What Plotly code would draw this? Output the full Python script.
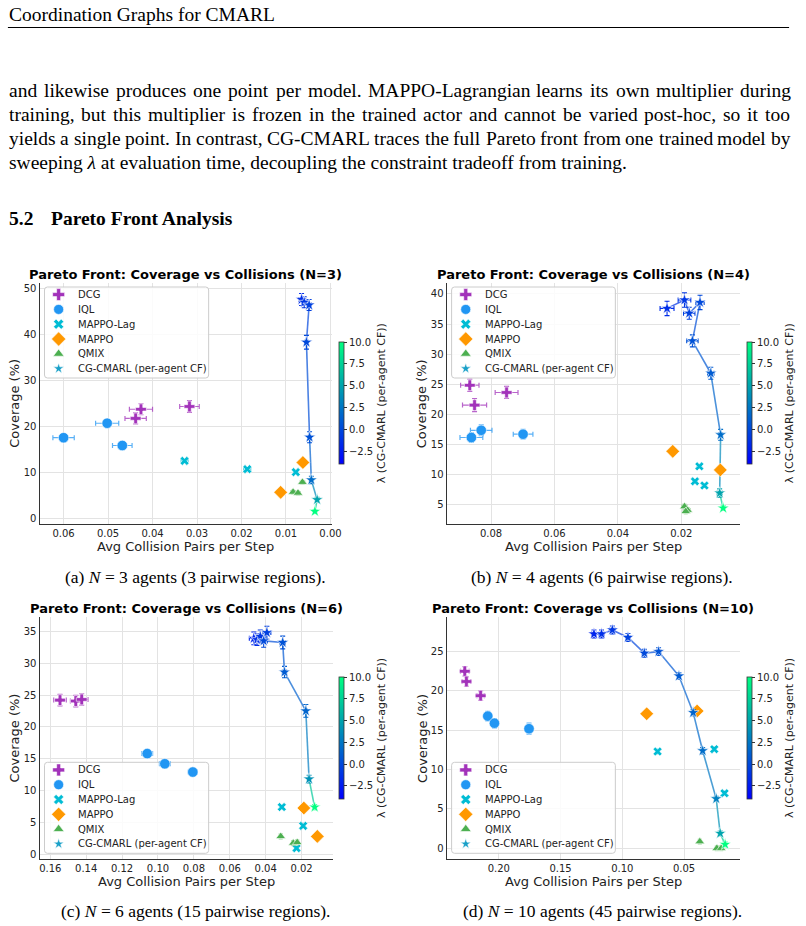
import plotly.graph_objects as go

PAGE_W, PAGE_H = 806, 926
PANELS = [3, 4, 6, 10]

# ---------------- data ----------------
# CG-CMARL lambda sweep: collisions, coverage, errors, lambda
CG_COLL = {
    3: [0.0065, 0.0059, 0.0048, 0.0054, 0.0047, 0.0043, 0.0030, 0.0035],
    4: [0.0245, 0.0190, 0.0175, 0.0141, 0.0165, 0.0107, 0.0076, 0.0079, 0.0068],
    6: [0.0466, 0.0448, 0.0430, 0.0393, 0.0411, 0.0305, 0.0295, 0.0176, 0.0158, 0.0127],
    10: [0.1229, 0.1168, 0.1080, 0.0954, 0.0821, 0.0706, 0.0541, 0.0426, 0.0349, 0.0239, 0.0207, 0.0167],
}
CG_COV = {
    3: [47.6, 47.0, 46.4, 38.3, 17.6, 8.3, 4.0, 1.45],
    4: [37.6, 39.0, 36.8, 38.6, 32.2, 26.8, 16.55, 6.85, 4.35],
    6: [33.9, 33.7, 34.2, 34.8, 33.5, 33.25, 28.6, 22.5, 11.8, 7.4],
    10: [27.25, 27.25, 27.75, 26.8, 24.8, 25.0, 21.9, 17.25, 12.4, 6.3, 1.9, 0.5],
}
CG_COLL_ERR = {
    3: [0.0006, 0.0006, 0.0005, 0.0004, 0.0003, 0.0003, 0.0003, 0.0003],
    4: [0.0022, 0.0020, 0.0018, 0.0013, 0.0018, 0.0010, 0.0006, 0.0008, 0.0005],
    6: [0.0025, 0.0020, 0.0020, 0.0022, 0.0020, 0.0015, 0.0012, 0.0008, 0.0007, 0.0006],
    10: [0.0020, 0.0020, 0.0020, 0.0018, 0.0018, 0.0018, 0.0012, 0.0012, 0.0010, 0.0008, 0.0006, 0.0005],
}
CG_COV_ERR = {
    3: [1.3, 1.2, 1.2, 1.5, 1.2, 0.8, 0.5, 0.4],
    4: [1.2, 1.2, 1.0, 1.2, 1.0, 1.0, 0.9, 0.7, 0.4],
    6: [1.0, 0.9, 1.0, 1.0, 1.0, 1.0, 0.9, 1.0, 0.6, 0.4],
    10: [0.5, 0.5, 0.5, 0.5, 0.5, 0.5, 0.4, 0.4, 0.4, 0.3, 0.3, 0.3],
}
CG_LAMBDA = {
    3: [-1.5, -1, -0.5, 0, 0.5, 2, 5, 10],
    4: [-1.5, -1, -0.5, 0, 0.5, 1, 2, 5, 10],
    6: [-2, -1.5, -1, -0.5, 0, 0.5, 1, 1.5, 4, 10],
    10: [-2, -1.5, -1, -0.5, 0, 0.5, 1, 1.5, 2, 3, 5, 10],
}

DCG_COLL = {3: [0.0317, 0.0426, 0.0438], 4: [0.0867, 0.0751, 0.0852],
            6: [0.1546, 0.1458, 0.1425], 10: [0.2275, 0.2262, 0.2147]}
DCG_COV = {3: [24.3, 23.7, 21.7], 4: [24.8, 23.6, 21.5],
           6: [24.2, 24.05, 24.3], 10: [22.5, 21.2, 19.4]}
DCG_COLL_ERR = {3: [0.0022, 0.0026, 0.0024], 4: [0.0029, 0.0036, 0.0038],
                6: [0.0035, 0.0030, 0.0035], 10: [0.0035, 0.0035, 0.0030]}
DCG_COV_ERR = {3: [1.3, 1.2, 1.2], 4: [1.0, 1.0, 1.1],
               6: [0.9, 0.9, 0.9], 10: [0.6, 0.6, 0.6]}

IQL_COLL = {3: [0.0502, 0.0600, 0.0468], 4: [0.0831, 0.0862, 0.0699],
            6: [0.1060, 0.0962, 0.0806], 10: [0.2089, 0.2035, 0.1755]}
IQL_COV = {3: [20.65, 17.5, 15.8], 4: [17.3, 16.1, 16.65],
           6: [15.8, 14.2, 12.9], 10: [16.8, 15.9, 15.2]}
IQL_COLL_ERR = {3: [0.0026, 0.0024, 0.0022], 4: [0.0034, 0.0036, 0.0031],
                6: [0.0030, 0.0030, 0.0025], 10: [0.0030, 0.0030, 0.0030]}
IQL_COV_ERR = {3: [0.6, 0.8, 0.8], 4: [0.9, 0.8, 0.8],
               6: [0.6, 0.6, 0.6], 10: [0.6, 0.6, 0.7]}

MLAG_COLL = {3: [0.0328, 0.0187, 0.0078], 4: [0.0143, 0.0157, 0.0127],
             6: [0.0310, 0.0191, 0.0228], 10: [0.0714, 0.0255, 0.0172]}
MLAG_COV = {3: [12.45, 10.65, 10.0], 4: [11.3, 8.8, 8.1],
            6: [7.4, 4.45, 0.95], 10: [12.3, 12.6, 7.0]}
MLAG_COLL_ERR = {3: [0.0008, 0.0008, 0.0005], 4: [0.0007, 0.0007, 0.0007],
                 6: [0.0010, 0.0010, 0.0010], 10: [0.0012, 0.0012, 0.0012]}
MLAG_COV_ERR = {3: [0.3, 0.3, 0.3], 4: [0.3, 0.3, 0.3],
                6: [0.3, 0.3, 0.3], 10: [0.3, 0.3, 0.3]}

MAPPO_COLL = {3: [0.0062, 0.0112], 4: [0.0227, 0.0077],
              6: [0.0187, 0.0112], 10: [0.0802, 0.0394]}
MAPPO_COV = {3: [12.1, 5.6], 4: [13.8, 10.7],
             6: [7.25, 2.8], 10: [17.1, 17.45]}

QMIX_COLL = {3: [0.0063, 0.0084, 0.0073], 4: [0.0190, 0.0180, 0.0186],
             6: [0.0316, 0.0246, 0.0224], 10: [0.0372, 0.0234, 0.0199]}
QMIX_COV = {3: [7.8, 5.65, 5.45], 4: [4.6, 4.0, 3.8],
            6: [2.8, 1.75, 1.85], 10: [0.85, 0.0, 0.0]}
QMIX_COLL_ERR = {3: [0.0005, 0.0005, 0.0005], 4: [0.0008, 0.0008, 0.0008],
                 6: [0.0008, 0.0008, 0.0008], 10: [0.0010, 0.0010, 0.0010]}
QMIX_COV_ERR = {3: [0.4, 0.4, 0.4], 4: [0.4, 0.4, 0.4],
                6: [0.4, 0.4, 0.4], 10: [0.3, 0.3, 0.3]}

X_TICKS = {3: [0.00, 0.01, 0.02, 0.03, 0.04, 0.05, 0.06],
           4: [0.02, 0.04, 0.06, 0.08],
           6: [0.02, 0.04, 0.06, 0.08, 0.10, 0.12, 0.14, 0.16],
           10: [0.05, 0.10, 0.15, 0.20]}
Y_TICKS = {3: [0, 10, 20, 30, 40, 50], 4: [5, 10, 15, 20, 25, 30, 35, 40],
           6: [0, 5, 10, 15, 20, 25, 30, 35], 10: [0, 5, 10, 15, 20, 25]}
CBAR_TICKS = [-2.5, 0.0, 2.5, 5.0, 7.5, 10.0]
LAM_MIN, LAM_MAX = -4.0, 10.0

PANEL_TITLES = {n: f"Pareto Front: Coverage vs Collisions (N={n})" for n in PANELS}
CAPTIONS = {3: "(a) <i>N</i> = 3 agents (3 pairwise regions).",
            4: "(b) <i>N</i> = 4 agents (6 pairwise regions).",
            6: "(c) <i>N</i> = 6 agents (15 pairwise regions).",
            10: "(d) <i>N</i> = 10 agents (45 pairwise regions)."}
LEGEND_NAMES = ["DCG", "IQL", "MAPPO-Lag", "MAPPO", "QMIX", "CG-CMARL (per-agent CF)"]

HEADER = "Coordination Graphs for CMARL"
BODY_LINES = [
    "and likewise produces one point per model. MAPPO-Lagrangian learns its own multiplier during",
    "training, but this multiplier is frozen in the trained actor and cannot be varied post-hoc, so it too",
    "yields a single point. In contrast, CG-CMARL traces the full Pareto front from one trained model by",
]
LAST_LINE = "sweeping <i>λ</i> at evaluation time, decoupling the constraint tradeoff from training."
SECTION_NUM = "5.2"
SECTION_TITLE = "Pareto Front Analysis"

# ---------------- layout geometry (page pixels) ----------------
PLOT_BOX = {3: (40, 283, 336, 524), 4: (451.7, 283, 748, 524),
            6: (40, 617, 336.7, 859.3), 10: (451.7, 617, 748.3, 859.3)}
X_RANGE = {3: [0.0654, -0.0004], 4: [0.0940, 0.0016], 6: [0.1660, 0.0025], 10: [0.2422, 0.0047]}
Y_RANGE = {3: [-1.3, 51.2], 4: [1.7, 41.83], 6: [-0.8, 37.25], 10: [-1.4, 29.4]}
CBAR_POS = {3: (343.3, 403.2), 4: (755.0, 403.2), 6: (343.3, 738.0), 10: (755.0, 738.0)}
LEGEND_BOX = {3: (45, 287, 211, 378), 4: (456.7, 287, 622.3, 378),
              6: (45, 762.3, 211, 853.3), 10: (456.7, 762.3, 622.3, 853.3)}
TITLE_Y = {3: 274.5, 4: 274.5, 6: 608.5, 10: 608.5}
XLABEL_Y = {3: 546.5, 4: 546.5, 6: 881.5, 10: 881.5}
YLABEL_X = {3: 14.5, 4: 426.5, 6: 14.5, 10: 426.5}
CAPTION_POS = {3: (198, 577), 4: (609, 577), 6: (198, 911), 10: (609, 911)}

DCG_C, IQL_C, MLAG_C, MAPPO_C, QMIX_C = "#A232BA", "#2196F3", "#00BCD4", "#FF9800", "#4CAF50"
DCG_EC, IQL_EC, MLAG_EC, QMIX_EC = ("rgba(162,50,186,0.75)", "rgba(33,150,243,0.75)",
                                    "rgba(0,188,212,0.7)", "rgba(76,175,80,0.7)")
WINTER = [[0.0, "rgb(0,0,255)"], [1.0, "rgb(0,255,128)"]]
SANS = "DejaVu Sans"
SERIF = "Liberation Serif"


def winter(lam, alpha=1.0):
    t = min(max((lam - LAM_MIN) / (LAM_MAX - LAM_MIN), 0), 1)
    r, g, b = 0.0, 255 * t, 255 * (1 - 0.5 * t)
    r, g, b = [255 - alpha * (255 - c) for c in (r, g, b)]
    return f"rgb({int(r)},{int(g)},{int(b)})"


fig = go.Figure()
layout_axes = {}
shapes = []
annotations = []

for k, n in enumerate(PANELS, start=1):
    sfx = "" if k == 1 else str(k)
    xa, ya = f"x{sfx}", f"y{sfx}"
    x0, y0, x1, y1 = PLOT_BOX[n]
    tickfont = dict(family=SANS, size=10, color="#222")
    layout_axes[f"xaxis{sfx}"] = dict(
        domain=[x0 / PAGE_W, x1 / PAGE_W], range=X_RANGE[n], anchor=ya,
        tickvals=X_TICKS[n], tickformat=".2f", ticks="", tickfont=tickfont,
        showgrid=True, gridcolor="#e3e3e3", gridwidth=1.1, zeroline=False,
        showline=True, linecolor="#333", linewidth=1.3, fixedrange=True)
    layout_axes[f"yaxis{sfx}"] = dict(
        domain=[1 - y1 / PAGE_H, 1 - y0 / PAGE_H], range=Y_RANGE[n], anchor=xa,
        tickvals=Y_TICKS[n], tickformat="d", ticks="", tickfont=tickfont,
        showgrid=True, gridcolor="#e3e3e3", gridwidth=1.1, zeroline=False,
        showline=True, linecolor="#333", linewidth=1.3, fixedrange=True)

    # legend frame: above the grid, below the data of this panel (panel data coordinates)
    lx0, ly0, lx1, ly1 = LEGEND_BOX[n]
    xr, yr = X_RANGE[n], Y_RANGE[n]
    fx = lambda px: xr[0] + (px - x0) / (x1 - x0) * (xr[1] - xr[0])
    fy = lambda py: yr[0] + (y1 - py) / (y1 - y0) * (yr[1] - yr[0])
    r = 3
    pts = [("M", lx0 + r, ly0), ("L", lx1 - r, ly0), ("Q", lx1, ly0, lx1, ly0 + r),
           ("L", lx1, ly1 - r), ("Q", lx1, ly1, lx1 - r, ly1), ("L", lx0 + r, ly1),
           ("Q", lx0, ly1, lx0, ly1 - r), ("L", lx0, ly0 + r), ("Q", lx0, ly0, lx0 + r, ly0)]
    path = ""
    for p in pts:
        if p[0] == "Q":
            path += f"Q{fx(p[1]):.6f},{fy(p[2]):.4f} {fx(p[3]):.6f},{fy(p[4]):.4f} "
        else:
            path += f"{p[0]}{fx(p[1]):.6f},{fy(p[2]):.4f} "
    path += "Z"
    shapes.append(dict(type="path", xref=xa, yref=ya, layer="between",
                       path=path, fillcolor="rgba(255,255,255,0.85)",
                       line=dict(color="#cccccc", width=1)))

    # CG-CMARL connecting line, coloured segment by segment
    xs, ys, lams = CG_COLL[n], CG_COV[n], CG_LAMBDA[n]
    for i in range(len(xs) - 1):
        fig.add_trace(go.Scatter(
            x=xs[i:i + 2], y=ys[i:i + 2], mode="lines", xaxis=xa, yaxis=ya,
            line=dict(color=winter((lams[i] + lams[i + 1]) / 2, 0.7), width=1.6),
            hoverinfo="skip", showlegend=False))

    # baselines
    fig.add_trace(go.Scatter(
        x=DCG_COLL[n], y=DCG_COV[n], mode="markers", xaxis=xa, yaxis=ya, name="DCG",
        marker=dict(symbol="cross", size=9, color=DCG_C, line=dict(color="white", width=0.6)),
        error_x=dict(type="data", array=DCG_COLL_ERR[n], color=DCG_EC, thickness=1.2, width=2.5),
        error_y=dict(type="data", array=DCG_COV_ERR[n], color=DCG_EC, thickness=1.2, width=2.5)))
    fig.add_trace(go.Scatter(
        x=IQL_COLL[n], y=IQL_COV[n], mode="markers", xaxis=xa, yaxis=ya, name="IQL",
        marker=dict(symbol="circle", size=10.5, color=IQL_C, line=dict(color="white", width=0.6)),
        error_x=dict(type="data", array=IQL_COLL_ERR[n], color=IQL_EC, thickness=1.2, width=2.5),
        error_y=dict(type="data", array=IQL_COV_ERR[n], color=IQL_EC, thickness=1.2, width=2.5)))
    fig.add_trace(go.Scatter(
        x=MLAG_COLL[n], y=MLAG_COV[n], mode="markers", xaxis=xa, yaxis=ya, name="MAPPO-Lag",
        marker=dict(symbol="x", size=8, color=MLAG_C, line=dict(color="white", width=0.6)),
        error_x=dict(type="data", array=MLAG_COLL_ERR[n], color=MLAG_EC, thickness=1.0, width=2),
        error_y=dict(type="data", array=MLAG_COV_ERR[n], color=MLAG_EC, thickness=1.0, width=2)))
    fig.add_trace(go.Scatter(
        x=MAPPO_COLL[n], y=MAPPO_COV[n], mode="markers", xaxis=xa, yaxis=ya, name="MAPPO",
        marker=dict(symbol="diamond", size=10.5, color=MAPPO_C, line=dict(color="white", width=0.6))))
    fig.add_trace(go.Scatter(
        x=QMIX_COLL[n], y=QMIX_COV[n], mode="markers", xaxis=xa, yaxis=ya, name="QMIX",
        marker=dict(symbol="triangle-up", size=8.5, color=QMIX_C, line=dict(color="white", width=0.6)),
        error_x=dict(type="data", array=QMIX_COLL_ERR[n], color=QMIX_EC, thickness=1.0, width=2),
        error_y=dict(type="data", array=QMIX_COV_ERR[n], color=QMIX_EC, thickness=1.0, width=2)))

    # CG-CMARL error bars (one colour per lambda)
    for i in range(len(xs)):
        c = winter(lams[i])
        fig.add_trace(go.Scatter(
            x=[xs[i]], y=[ys[i]], mode="markers", xaxis=xa, yaxis=ya,
            marker=dict(size=1, opacity=0),
            error_x=dict(type="data", array=[CG_COLL_ERR[n][i]], color=c, thickness=1.1, width=2.5),
            error_y=dict(type="data", array=[CG_COV_ERR[n][i]], color=c, thickness=1.1, width=2.5),
            hoverinfo="skip", showlegend=False))

    cbx, cby = CBAR_POS[n]
    fig.add_trace(go.Scatter(
        x=xs, y=ys, mode="markers", xaxis=xa, yaxis=ya, name="CG-CMARL (per-agent CF)",
        marker=dict(symbol="star", size=9, color=lams, colorscale=WINTER,
                    cmin=LAM_MIN, cmax=LAM_MAX, line=dict(color="white", width=0.6),
                    showscale=True,
                    colorbar=dict(
                        x=cbx / PAGE_W, xanchor="left", y=1 - cby / PAGE_H, yanchor="middle",
                        len=122, lenmode="pixels", thickness=4.5, thicknessmode="pixels",
                        xpad=0, ypad=0, outlinewidth=0.8, outlinecolor="#333",
                        tickvals=CBAR_TICKS,
                        ticktext=[f"{v:.1f}".replace("-", "\u2212") for v in CBAR_TICKS],
                        ticks="outside", ticklen=3, tickcolor="#333",
                        tickfont=dict(family=SANS, size=10, color="#222"),
                        title=dict(text="λ (CG-CMARL (per-agent CF))", side="right",
                                   font=dict(family=SANS, size=11, color="#222"))))))

# ---------------- page overlay axis (pixel coordinates) ----------------
layout_axes["xaxis5"] = dict(domain=[0, 1], range=[0, PAGE_W], visible=False, anchor="y5", fixedrange=True)
layout_axes["yaxis5"] = dict(domain=[0, 1], range=[PAGE_H, 0], visible=False, anchor="x5", fixedrange=True)


def ann(text, x, y, size, family=SANS, xanchor="center", yanchor="middle", angle=0, color="black"):
    annotations.append(dict(text=text, x=x, y=y, xref="x5", yref="y5", showarrow=False,
                            xanchor=xanchor, yanchor=yanchor, textangle=angle, borderpad=0,
                            font=dict(family=family, size=size, color=color)))


# legend markers + labels
LEG_SYMBOLS = [("cross", 10, DCG_C), ("circle", 10, IQL_C), ("x", 9, MLAG_C),
               ("diamond", 11, MAPPO_C), ("triangle-up", 9.5, QMIX_C), ("star", 8, "rgb(25,160,200)")]
for n in PANELS:
    lx0, ly0, lx1, ly1 = LEGEND_BOX[n]
    for j, name in enumerate(LEGEND_NAMES):
        ann(name, lx0 + 32.7, ly0 + 7.6 + 14.8 * j, 10, xanchor="left", color="#222")
for j, (sym, sz, col) in enumerate(LEG_SYMBOLS):
    fig.add_trace(go.Scatter(
        x=[LEGEND_BOX[n][0] + 14.3 for n in PANELS],
        y=[LEGEND_BOX[n][1] + 7.6 + 14.8 * j for n in PANELS],
        mode="markers", xaxis="x5", yaxis="y5", cliponaxis=False,
        marker=dict(symbol=sym, size=sz, color=col, line=dict(color="white", width=0.6)),
        hoverinfo="skip", showlegend=False))

# panel titles, axis titles, captions
for n in PANELS:
    x0, y0, x1, y1 = PLOT_BOX[n]
    ann(f"<b>{PANEL_TITLES[n]}</b>", (x0 + x1) / 2, TITLE_Y[n], 13)
    ann("Avg Collision Pairs per Step", (x0 + x1) / 2, XLABEL_Y[n], 13, color="#222")
    ann("Coverage (%)", YLABEL_X[n], (y0 + y1) / 2, 13, angle=-90, color="#222")
    cx, cy = CAPTION_POS[n]
    ann(CAPTIONS[n], cx, cy, 17.5, family=SERIF)

# page text
TIMES_W = {" ": 250, ".": 250, ",": 250, "-": 333, "(": 333, ")": 333, ":": 278,
           "A": 722, "B": 667, "C": 667, "D": 722, "E": 611, "F": 556, "G": 722, "H": 722,
           "I": 333, "J": 389, "K": 722, "L": 611, "M": 889, "N": 722, "O": 722, "P": 556,
           "Q": 722, "R": 667, "S": 556, "T": 611, "U": 722, "V": 722, "W": 944, "X": 722,
           "Y": 722, "Z": 611, "a": 444, "b": 500, "c": 444, "d": 500, "e": 444, "f": 333,
           "g": 500, "h": 500, "i": 278, "j": 278, "k": 500, "l": 278, "m": 778, "n": 500,
           "o": 500, "p": 500, "q": 500, "r": 333, "s": 389, "t": 278, "u": 500, "v": 500,
           "w": 722, "x": 500, "y": 500, "z": 444}
BODY_SIZE = 19.5
TEXT_LEFT, TEXT_RIGHT = 8, 798
BODY_Y = [90, 114, 138, 162]


def tw(word, size):
    return sum(TIMES_W.get(ch, 500) for ch in word) / 1000 * size


ann(HEADER, TEXT_LEFT, 14.5, BODY_SIZE, family=SERIF, xanchor="left")
shapes.append(dict(type="line", xref="x5", yref="y5", x0=TEXT_LEFT, x1=TEXT_RIGHT, y0=27.5, y1=27.5,
                   line=dict(color="black", width=1)))
for line, yy in zip(BODY_LINES, BODY_Y):
    words = line.split(" ")
    widths = [tw(w, BODY_SIZE) for w in words]
    gap = (TEXT_RIGHT - TEXT_LEFT - sum(widths)) / (len(words) - 1)
    xpos = TEXT_LEFT
    for w, wd in zip(words, widths):
        ann(w, xpos, yy, BODY_SIZE, family=SERIF, xanchor="left")
        xpos += wd + gap
ann(LAST_LINE, TEXT_LEFT, BODY_Y[3], BODY_SIZE, family=SERIF, xanchor="left")
ann(f"<b>{SECTION_NUM}</b>", TEXT_LEFT, 218, BODY_SIZE, family=SERIF, xanchor="left")
ann(f"<b>{SECTION_TITLE}</b>", 51, 218, BODY_SIZE, family=SERIF, xanchor="left")

fig.update_layout(
    width=PAGE_W, height=PAGE_H, autosize=False,
    margin=dict(l=0, r=0, t=0, b=0, pad=0),
    paper_bgcolor="white", plot_bgcolor="rgba(0,0,0,0)",
    showlegend=False, annotations=annotations, shapes=shapes,
    **layout_axes)

fig.write_html("out.html")
